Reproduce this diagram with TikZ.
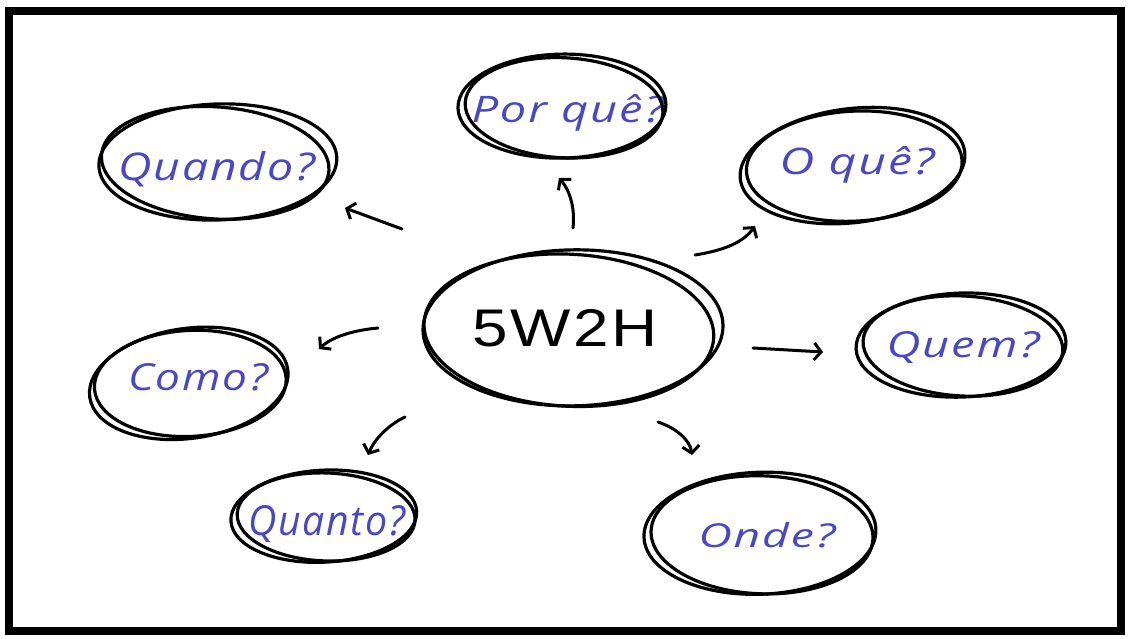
\documentclass[tikz,border=0pt]{standalone}
\usepackage{fontspec}
\usetikzlibrary{arrows.meta,shapes.geometric}
\newfontfamily\centerfont[LetterSpace=4]{Liberation Sans}
\newfontfamily\handfont[LetterSpace=4]{Open Sans}
\definecolor{inkblue}{RGB}{72,72,196}
% hand-set label: width, height (pt), text
\newcommand\hw[3]{\resizebox{#1pt}{#2pt}{\handfont\itshape #3}}
\newcommand\ring[6]{%
  \begin{scope}[shift={(#1.center)}]
    \draw[stroke,rotate=#6] (#2,#3) ellipse [x radius=#4pt, y radius=#5pt];
  \end{scope}}
\tikzset{
  stroke/.style={line width=3.2pt, line join=round, line cap=round},
  bubble/.style={ellipse, inner sep=0pt, text depth=0pt, text=inkblue,
    font=\fontsize{40}{44}\selectfont},
  hub/.style={ellipse, inner sep=0pt, text depth=0pt, text=black,
    font=\fontsize{54}{58}\selectfont\centerfont},
  arr/.style={line width=3pt, line cap=round, line join=round,
    -{Straight Barb[length=7pt,width=17pt,line width=3pt]}},
  frame/.style={line width=8pt}
}
\begin{document}
\begin{tikzpicture}[x=1pt,y=-1pt]
\useasboundingbox (0,0) rectangle (1128,639);
\fill[white] (0,0) rectangle (1128,639);
\draw[frame] (9,11) rectangle (1121,631);

% nodes (positioned at their text centres)
\node[hub]    (c)   at (565,328) {\resizebox{185pt}{37pt}{5W2H}};
\node[bubble] (qd)  at (217,166) {\hw{197}{29}{Quando?}};
\node[bubble] (pq)  at (568,109) {\hw{193}{28}{Por quê?}};
\node[bubble] (oq)  at (857,161) {\hw{155}{28}{O quê?}};
\node[bubble] (cm)  at (198,377) {\hw{140}{27}{Como?}};
\node[bubble] (qm)  at (963,345) {\hw{153}{26}{Quem?}};
\node[bubble] (qt)  at (327,520) {\hw{157}{30}{Quanto?}};
\node[bubble] (od)  at (767,535) {\hw{137}{25}{Onde?}};

% sketchy double rings
\ring{c}{8}{0}{150}{78}{1}
\ring{c}{4}{2}{145}{76}{-3}
\ring{qd}{1}{-4}{119}{58}{2}
\ring{qd}{-2}{-3}{114}{56}{-4}
\ring{pq}{-6}{-3}{104}{52}{1}
\ring{pq}{-4}{-1}{99}{50}{-3}
\ring{oq}{-5}{4}{113}{57}{7}
\ring{oq}{-3}{5}{108}{55}{3}
\ring{cm}{-10}{5}{100}{55}{8}
\ring{cm}{-8}{6}{96}{53}{3}
\ring{qm}{-2}{0}{105}{52}{2}
\ring{qm}{0}{1}{100}{50}{-3}
\ring{qt}{-3}{-4}{93}{46}{3}
\ring{qt}{-1}{-3}{89}{44}{-2}
\ring{od}{-7}{-2}{116}{61}{2}
\ring{od}{-5}{0}{111}{59}{-2}

% arrow end points (the arrows float between the rings)
\coordinate (c-qd) at (402,229); \coordinate (qd-in) at (345,208);
\coordinate (c-pq) at (573,228); \coordinate (pq-in) at (559,178);
\coordinate (c-oq) at (695,255); \coordinate (oq-in) at (755,226);
\coordinate (c-cm) at (378,328); \coordinate (cm-in) at (319,349);
\coordinate (c-qm) at (753,348); \coordinate (qm-in) at (823,352);
\coordinate (c-od) at (658,422); \coordinate (od-in) at (692,455);
\coordinate (c-qt) at (405,417); \coordinate (qt-in) at (368,455);

\draw[arr] (c-qd) -- (qd-in);
\draw[arr] (c-pq) .. controls (575,210) and (571,192) .. (pq-in);
\draw[arr] (c-oq) .. controls (720,251) and (742,244) .. (oq-in);
\draw[arr] (c-cm) .. controls (356,330) and (333,336) .. (cm-in);
\draw[arr] (c-qm) -- (qm-in);
\draw[arr] (c-od) .. controls (676,428) and (690,440) .. (od-in);
\draw[arr] (c-qt) .. controls (390,424) and (375,438) .. (qt-in);
\end{tikzpicture}
\end{document}
